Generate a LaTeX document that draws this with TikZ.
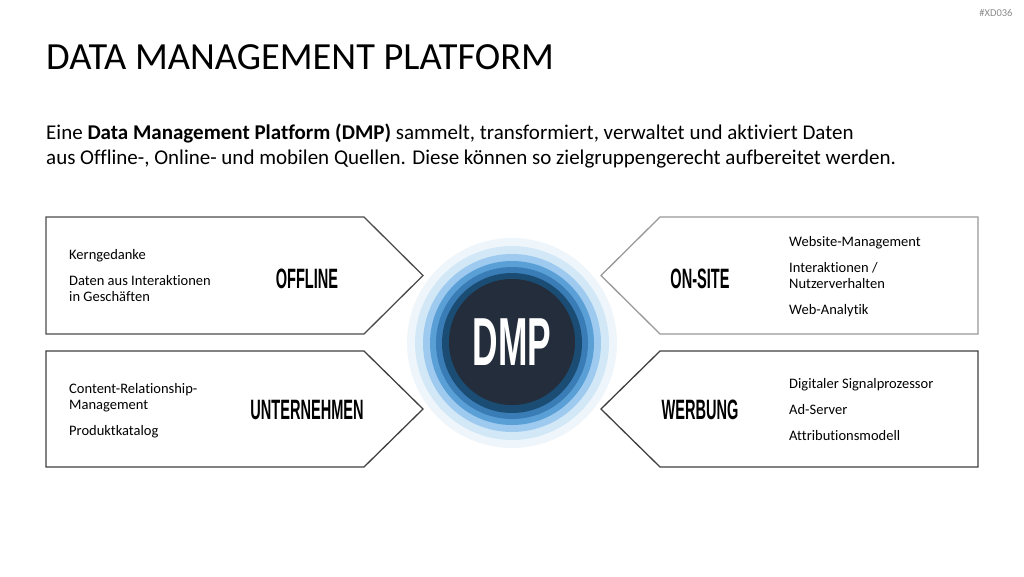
\documentclass[tikz,border=0pt]{standalone}
\usepackage{fontspec}
\setmainfont{Carlito}[Ligatures=NoCommon]
\newfontfamily\headfont{Liberation Sans}
\usepackage{xcolor}
\usepackage{graphicx}

\definecolor{ringA}{HTML}{EEF6FC}
\definecolor{ringB}{HTML}{D3E8F7}
\definecolor{ringC}{HTML}{9DCAEE}
\definecolor{ringD}{HTML}{5A9FD6}
\definecolor{ringE}{HTML}{3A7DB6}
\definecolor{ringF}{HTML}{1A4C74}
\definecolor{dmpcore}{HTML}{232D3B}

\newcommand{\condtext}[2]{\scalebox{0.52}[1]{\fontsize{#1}{#1}\headfont\bfseries #2}}

\begin{document}
\begin{tikzpicture}[x=1pt, y=-1pt,
    itemtext/.style={font=\fontsize{14.5}{16}\selectfont, align=left, anchor=base west, inner sep=0pt},
    headtext/.style={inner sep=0pt}]
    \fill[white] (0,0) rectangle (1024,576);
    \useasboundingbox (0,0) rectangle (1024,576);

    % Title
    \node[anchor=base west, inner sep=0pt, font=\fontsize{38.4}{38}\selectfont] (title) at (46,69) {DATA MANAGEMENT PLATFORM};
    \node[font=\fontsize{10.5}{10}\selectfont, text=black!45] (tag) at (996,13) {\#XD036};
    \node[anchor=base west, inner sep=0pt, align=left, font=\fontsize{21}{25}\selectfont] (intro) at (46,164)
        {Eine \textbf{Data Management Platform (DMP)} sammelt, transformiert, verwaltet und aktiviert Daten\\
         aus Offline-, Online- und mobilen Quellen. Diese können so zielgruppengerecht aufbereitet werden.};

    % Rings
    \foreach \r/\c in {105/ringA, 97/ringB, 89/ringC, 82/ringD, 76/ringE, 70/ringF}
        \fill[\c] (512,343) circle (\r pt);
    \node[circle, fill=dmpcore, minimum size=126pt, inner sep=0pt, text=white] (dmp) at (512,342) {\condtext{68}{DMP}};

    % Left boxes
    \draw[black!70, line width=1.3pt] (46,217) -- (364,217) -- (423,275.5) -- (364,334) -- (46,334) -- cycle;
    \node[headtext] (offline) at (307,279) {\condtext{28}{OFFLINE}};
    \node[itemtext] (offitems) at (69,301) {Kerngedanke\\[10pt]Daten aus Interaktionen\\in Geschäften};

    \draw[black!75, line width=1.3pt] (46,351) -- (364,351) -- (423,409) -- (364,467) -- (46,467) -- cycle;
    \node[headtext] (company) at (307,410) {\condtext{28}{UNTERNEHMEN}};
    \node[itemtext] (compitems) at (69,435) {Content-Relationship-\\Management\\[10pt]Produktkatalog};

    % Right boxes
    \draw[black!40, line width=1.3pt] (978,217) -- (660,217) -- (601,275.5) -- (660,334) -- (978,334) -- cycle;
    \node[headtext] (onsite) at (700,279) {\condtext{28}{ON-SITE}};
    \node[itemtext] (siteitems) at (789,314) {Website-Management\\[10pt]Interaktionen /\\Nutzerverhalten\\[10pt]Web-Analytik};

    \draw[black!75, line width=1.3pt] (978,351) -- (660,351) -- (601,409) -- (660,467) -- (978,467) -- cycle;
    \node[headtext] (ads) at (700,410) {\condtext{28}{WERBUNG}};
    \node[itemtext] (aditems) at (789,440) {Digitaler Signalprozessor\\[10pt]Ad-Server\\[10pt]Attributionsmodell};
\end{tikzpicture}
\end{document}
